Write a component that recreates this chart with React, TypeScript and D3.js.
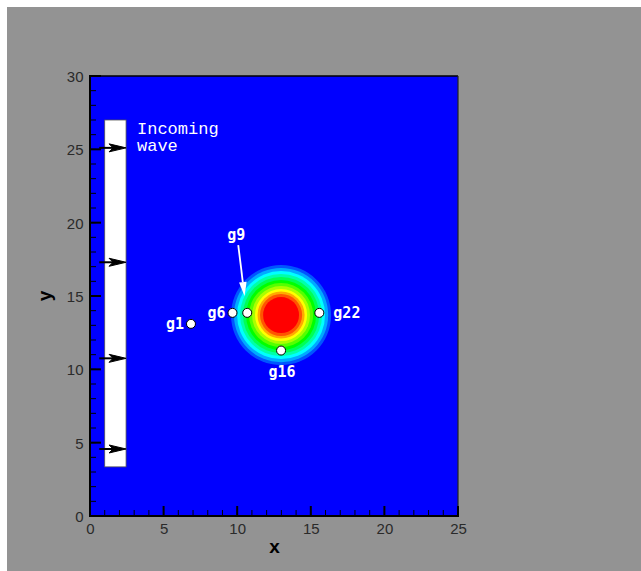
import React from "react";
import * as d3 from "d3";

// Axis extents and tick values
const xDomain = [0, 25];
const yDomain = [0, 30];
const majorTicksX = [0, 5, 10, 15, 20, 25];
const majorTicksY = [0, 5, 10, 15, 20, 25, 30];
const minorTicksX = d3.range(0, 26, 1);
const minorTicksY = d3.range(0, 31, 1);

// Wave-maker strip (x0, x1, y0, y1) and incoming-wave arrows
const stripX = [1.0, 2.45];
const stripY = [3.35, 27.0];
const arrowStartX = 0.63;
const arrowEndX = 2.45;
const arrowYs = [25.1, 17.3, 10.75, 4.57];

// Hump: centre and contour band radii (outer to inner)
const humpCenter = [12.98, 13.7];
const bandRadii = [3.4, 3.2, 2.99, 2.79, 2.59, 2.38, 2.18, 1.97, 1.77, 1.6, 1.43, 1.22];

// Wave gauges
const gaugeNames = ["g1", "g6", "g9", "g22", "g16"];
const gaugeX = [6.86, 9.68, 10.68, 15.58, 12.98];
const gaugeY = [13.1, 13.85, 13.85, 13.85, 11.28];

// Pointer for the g9 label
const g9Pointer = { from: [10.07, 18.47], to: [10.5, 15.0] };

const W = 641;
const H = 571;

const rainbow = d3.piecewise(d3.interpolateRgb, ["#0000ff", "#00ffff", "#00ff00", "#ffff00", "#ff0000"]);

export default function App() {
  const x = d3.scaleLinear().domain(xDomain).range([90, 458]);
  const y = d3.scaleLinear().domain(yDomain).range([516, 76]);
  const pxPerUnit = x(1) - x(0);

  const tickFont = "'Liberation Sans', Arial, sans-serif";
  const monoFont = "'DejaVu Sans Mono', monospace";

  const cx = x(humpCenter[0]);
  const cy = y(humpCenter[1]);

  // white pointer arrow geometry
  const px1 = x(g9Pointer.from[0]);
  const py1 = y(g9Pointer.from[1]);
  const px2 = x(g9Pointer.to[0]);
  const py2 = y(g9Pointer.to[1]);
  const ang = Math.atan2(py2 - py1, px2 - px1);
  const headL = 14;
  const headW = 3.8;
  const bx = px2 - headL * Math.cos(ang);
  const by = py2 - headL * Math.sin(ang);
  const nx = -Math.sin(ang);
  const ny = Math.cos(ang);

  const labelPos = (i: number) => {
    const gx = x(gaugeX[i]);
    const gy = y(gaugeY[i]);
    const name = gaugeNames[i];
    if (name === "g22") return { tx: gx + 14, ty: gy + 5, anchor: "start" };
    if (name === "g16") return { tx: gx + 1, ty: gy + 26, anchor: "middle" };
    if (name === "g9") return { tx: px1 - 2, ty: py1 - 5, anchor: "middle" };
    return { tx: gx - 7, ty: gy + 5.5, anchor: "end" };
  };

  return (
    <svg
      width={W}
      height={H}
      style={{ position: "absolute", left: 0, top: 0, display: "block" }}
    >
      <rect x={0} y={0} width={W} height={H} fill="#ffffff" />
      <rect x={7} y={7} width={W - 7} height={H - 7} fill="#939393" />

      {/* plot area */}
      <rect x={x(0)} y={y(30)} width={x(25) - x(0)} height={y(0) - y(30)} fill="#0000ff" />

      {/* hump contour bands */}
      {bandRadii.map((r, i) => (
        <circle
          key={"band" + i}
          cx={cx}
          cy={cy}
          r={r * pxPerUnit}
          fill={rainbow((i + 1) / bandRadii.length)}
        />
      ))}

      {/* wave-maker strip */}
      <rect
        x={x(stripX[0])}
        y={y(stripY[1])}
        width={x(stripX[1]) - x(stripX[0])}
        height={y(stripY[0]) - y(stripY[1])}
        fill="#ffffff"
        stroke="#555555"
        strokeWidth={0.8}
      />

      {/* incoming wave arrows */}
      {arrowYs.map((v, i) => {
        const ay = y(v);
        const x1 = x(arrowStartX);
        const x2 = x(arrowEndX);
        return (
          <g key={"arr" + i}>
            <line x1={x1} y1={ay} x2={x2 - 10} y2={ay} stroke="#000" strokeWidth={2} />
            <polygon
              points={`${x2},${ay} ${x2 - 17},${ay - 4} ${x2 - 13},${ay} ${x2 - 17},${ay + 4}`}
              fill="#000"
              stroke="#000"
              strokeWidth={1}
            />
          </g>
        );
      })}

      {/* frame */}
      <line x1={x(0)} y1={y(30)} x2={x(25)} y2={y(30)} stroke="#000" strokeWidth={1.5} />
      <line x1={x(25)} y1={y(30)} x2={x(25)} y2={y(0)} stroke="#222" strokeWidth={1.2} />
      <line x1={x(0)} y1={y(30) - 1} x2={x(0)} y2={y(0) + 1} stroke="#000" strokeWidth={2} />
      <line x1={x(0) - 1} y1={y(0)} x2={x(25) + 1} y2={y(0)} stroke="#000" strokeWidth={2} />

      {/* minor ticks */}
      {minorTicksX.map((v) => (
        <line key={"mx" + v} x1={x(v)} x2={x(v)} y1={y(0)} y2={y(0) - 6} stroke="#000" strokeWidth={1} />
      ))}
      {minorTicksY.map((v) => (
        <line key={"my" + v} x1={x(0)} x2={x(0) + 6} y1={y(v)} y2={y(v)} stroke="#000" strokeWidth={1} />
      ))}
      {/* major ticks */}
      {majorTicksX.map((v) => (
        <line key={"Mx" + v} x1={x(v)} x2={x(v)} y1={y(0)} y2={y(0) - 10} stroke="#000" strokeWidth={2} />
      ))}
      {majorTicksY.map((v) => (
        <line key={"My" + v} x1={x(0)} x2={x(0) + 11} y1={y(v)} y2={y(v)} stroke="#000" strokeWidth={2} />
      ))}

      {/* tick labels */}
      {majorTicksX.map((v) => (
        <text
          key={"lx" + v}
          x={x(v) + 0.5}
          y={533.5}
          textAnchor="middle"
          fontFamily={tickFont}
          fontSize={15}
          fill="#2a2a2a"
        >
          {v}
        </text>
      ))}
      {majorTicksY.map((v) => (
        <text
          key={"ly" + v}
          x={83.5}
          y={y(v) + 6}
          textAnchor="end"
          fontFamily={tickFont}
          fontSize={15}
          fill="#2a2a2a"
        >
          {v}
        </text>
      ))}

      {/* axis titles */}
      <text
        x={(x(0) + x(25)) / 2 + 0.5}
        y={552.5}
        textAnchor="middle"
        fontFamily={tickFont}
        fontWeight="bold"
        fontSize={19}
        fill="#000"
      >
        x
      </text>
      <text
        transform={`translate(51,${(y(0) + y(30)) / 2}) rotate(-90)`}
        textAnchor="middle"
        fontFamily={tickFont}
        fontWeight="bold"
        fontSize={19}
        fill="#000"
      >
        y
      </text>

      {/* incoming wave label */}
      <text x={137} y={134} fontFamily={"'Liberation Mono', monospace"} fontSize={17} fill="#ffffff">
        Incoming
      </text>
      <text x={137} y={150.5} fontFamily={"'Liberation Mono', monospace"} fontSize={17} fill="#ffffff">
        wave
      </text>

      {/* g9 pointer */}
      <line x1={px1} y1={py1} x2={bx} y2={by} stroke="#ffffff" strokeWidth={1.8} />
      <polygon
        points={`${px2},${py2} ${bx + nx * headW},${by + ny * headW} ${bx - nx * headW},${by - ny * headW}`}
        fill="#ffffff"
      />

      {/* gauges */}
      {gaugeNames.map((name, i) => {
        const { tx, ty, anchor } = labelPos(i);
        return (
          <g key={name}>
            <circle cx={x(gaugeX[i])} cy={y(gaugeY[i])} r={4.5} fill="#ffffff" stroke="#000" strokeWidth={1} />
            <text
              x={tx}
              y={ty}
              textAnchor={anchor as any}
              fontFamily={monoFont}
              fontWeight="bold"
              fontSize={15}
              fill="#ffffff"
            >
              {name}
            </text>
          </g>
        );
      })}
    </svg>
  );
}
